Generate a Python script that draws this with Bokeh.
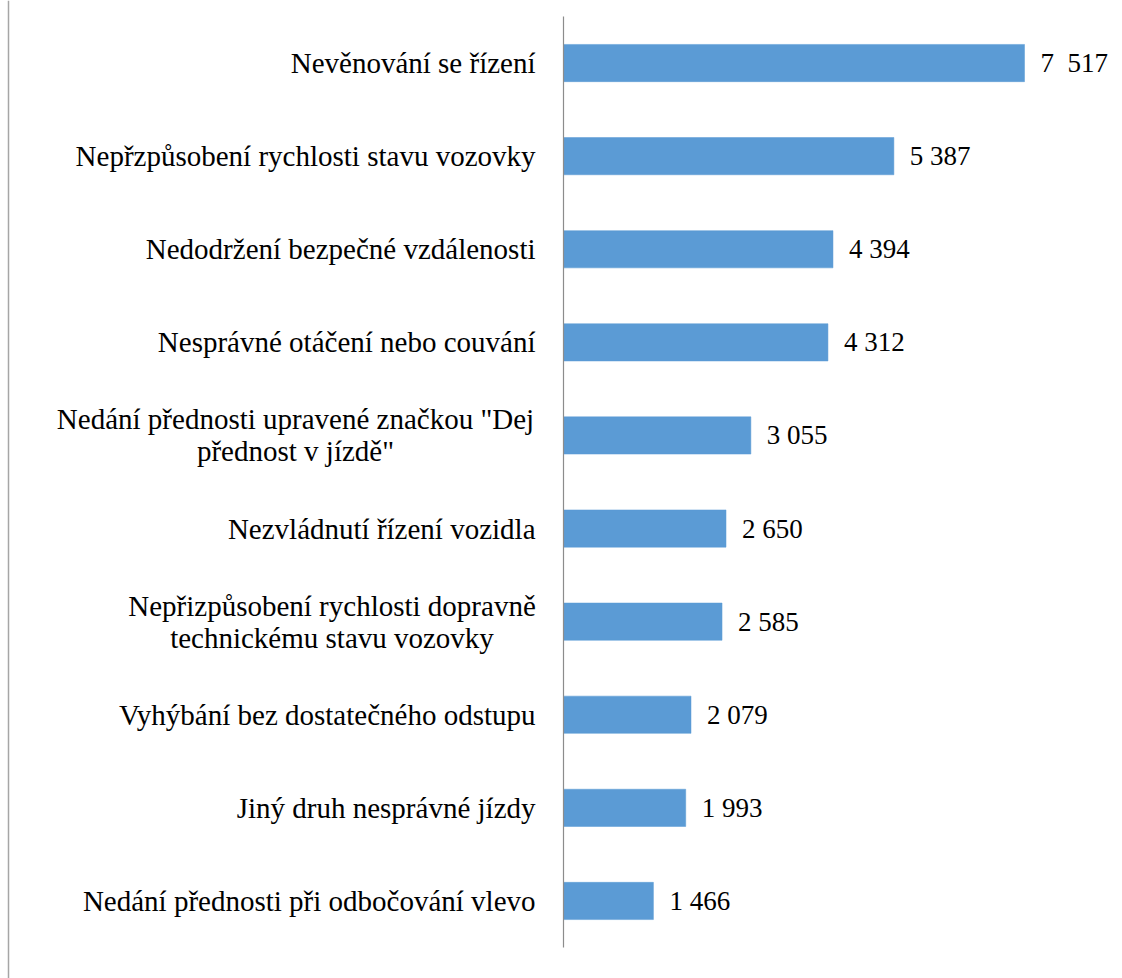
from bokeh.plotting import figure
from bokeh.models import Range1d, ColumnDataSource, Span
from bokeh.core.properties import value
from bokeh.embed import file_html
from bokeh.resources import INLINE

categories = [
    "Nevěnování se řízení",
    "Nepřzpůsobení rychlosti stavu vozovky",
    "Nedodržení bezpečné vzdálenosti",
    "Nesprávné otáčení nebo couvání",
    "Nedání přednosti upravené značkou \"Dej\npřednost v jízdě\"",
    "Nezvládnutí řízení vozidla",
    "Nepřizpůsobení rychlosti dopravně\ntechnickému stavu vozovky",
    "Vyhýbání bez dostatečného odstupu",
    "Jiný druh nesprávné jízdy",
    "Nedání přednosti při odbočování vlevo",
]
values = [7517, 5387, 4394, 4312, 3055, 2650, 2585, 2079, 1993, 1466]
value_labels = ["7\u00a0 517", "5 387", "4 394", "4 312", "3 055", "2 650", "2 585", "2 079", "1 993", "1 466"]

FONT = "Liberation Serif"
FS = "29px"
VFS = "27px"
n = len(categories)
ypos = [n - 1 - i for i in range(n)]

W, H = 1122, 978
scale = 461 / 7517.0  # px per unit
band = 93.1
p = figure(width=W, height=H, output_backend="svg", toolbar_location=None,
           min_border=0, x_range=Range1d(-563 / scale, (W - 563) / scale),
           y_range=Range1d(-0.5 - 31 / band, n - 0.5 + 16 / band))
p.axis.visible = False
p.grid.visible = False
p.outline_line_color = None

src = ColumnDataSource(dict(y=ypos, v=values, lab=value_labels))
p.hbar(y="y", left=0, right="v", height=0.4, source=src, fill_color="#5B9BD5",
       line_color="#5B9BD5", line_width=0.5)
p.segment(x0=[0], y0=[-0.5], x1=[0], y1=[n - 0.5], line_color="#8c8c8c", line_width=1.2)
p.text(x="v", y="y", text="lab", source=src, x_offset=16, text_baseline="middle",
       text_align="left", text_font=value(FONT), text_font_size=VFS, text_color="#000000")

# category labels (two-line labels are centred line by line, as in the original)
sx, sy, st, sal, sxo, syo = [], [], [], [], [], []
widths = {0: 480, 1: 407}
k = 0
for c, y in zip(categories, ypos):
    lines = c.split("\n")
    if len(lines) == 1:
        sx.append(0); sy.append(y); st.append(c); sal.append("right"); sxo.append(-28); syo.append(0)
    else:
        w1 = widths[k]; k += 1
        for j, ln in enumerate(lines):
            sx.append(0); sy.append(y); st.append(ln); sal.append("center")
            sxo.append(-(28 + w1 / 2)); syo.append(-16 if j == 0 else 16)
lsrc = ColumnDataSource(dict(x=sx, y=sy, t=st, a=sal, xo=sxo, yo=syo))
p.text(x="x", y="y", text="t", source=lsrc, text_align="a", x_offset="xo", y_offset="yo",
       text_baseline="middle", text_font=value(FONT), text_font_size=FS, text_color="#000000")

# chart area left border
p.add_layout(Span(location=-555 / scale, dimension="height", line_color="#a6a6a6", line_width=1.5))

open("out.html", "w").write(file_html(p, INLINE))
